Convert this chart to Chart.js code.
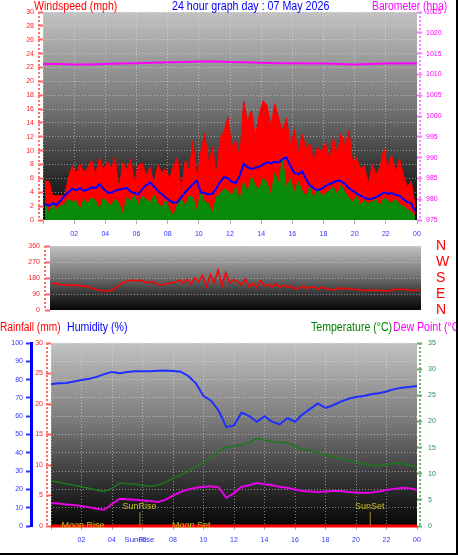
<!DOCTYPE html>
<html>
<head>
<meta charset="utf-8">
<script src="https://cdn.jsdelivr.net/npm/chart.js@4.4.1/dist/chart.umd.min.js"></script>
<style>
  body { margin: 0; background: #fff; }
  #wrap { position: relative; width: 458px; height: 555px; overflow: hidden; background: #fff; }
  #wrap canvas { position: absolute; left: 0; }
  .ttl { position: absolute; font: 12px "Liberation Sans", Arial, sans-serif; line-height: 12px;
         white-space: nowrap; transform: scaleX(0.88); transform-origin: left top; z-index: 2; }
  .edgeR { position: absolute; right: 0; top: 0; width: 2px; height: 555px; background: #000; z-index: 3; }
  .edgeB { position: absolute; left: 0; bottom: 0; width: 458px; height: 2px; background: #000; z-index: 3; }
</style>
</head>
<body>
<div id="wrap">
  <canvas id="windChart" width="458" height="245" style="top:0"></canvas>
  <canvas id="dirChart" width="458" height="116" style="top:220px"></canvas>
  <canvas id="tempChart" width="458" height="225" style="top:330px"></canvas>

  <div class="ttl" style="left:34px;top:0;color:#ff0000">Windspeed (mph)</div>
  <div class="ttl" style="left:172px;top:0;color:#0000ff;transform:scaleX(0.89)">24 hour graph day : 07 May 2026</div>
  <div class="ttl" style="left:372px;top:0;color:#ff00ff;transform:scaleX(0.86)">Barometer (hpa)</div>

  <div class="ttl" style="left:0;top:321px;color:#ff0000;transform:scaleX(0.85)">Rainfall (mm)</div>
  <div class="ttl" style="left:67px;top:321px;color:#0000ff">Humidity (%)</div>
  <div class="ttl" style="left:311px;top:321px;color:#008000">Temperature (°C)</div>
  <div class="ttl" style="left:393px;top:321px;color:#ff00ff">Dew Point (°C)</div>

  <div class="edgeR"></div>
  <div class="edgeB"></div>
</div>

<script>
// Achsenbeschriftung Stunden
const hourLabels = ['', '02', '04', '06', '08', '10', '12', '14', '16', '18', '20', '22', '00'];
const dirLabels = ['N', 'E', 'S', 'W', 'N'];

// Wind, 15-Minuten-Werte (mph)
const windGust = [
    5.6, 5.6, 3.5, 3.5, 3.5, 3.5,
    6, 7.8, 6.7, 8.1, 6.9, 7.5,
    8.6, 6.5, 9, 7.2, 8.4,
    7.4, 9, 4.5, 8.3, 7.2, 8.8, 5.5, 7.9, 8.2,
    6.4, 7.6, 5.2, 8, 6.8, 7.4, 5.9, 7.8,
    9, 4.2, 8.6, 7,
    11.4, 6, 9.8, 12.5,
    8.2, 10.6, 6.5, 11.8, 12.9, 14.8,
    10.5, 11.4, 8.8, 17.2,
    14.2, 15.8, 12, 15.2, 17.2,
    16.5, 13.5, 16.8, 14.7, 12.8,
    14.7, 10.8, 13, 9.5, 12.4, 10.2,
    11, 8.6, 10.5, 9.8, 11.2, 8.5,
    11.8, 9.5, 12.5, 10.6, 12.9,
    8.2, 9, 7.4,
    7.8, 5.2, 8, 6.6, 7.6,
    10.3, 7.5, 9.3, 6.8, 8.8,
    6.5, 4.8, 5.6, 2.2
];
const windSpeed = [
    2.5, 1.0, 2.2, 1.5, 2.0, 2.3,
    3.0, 2.6, 2.8, 1.5, 3.0, 2.4,
    3.2, 2.8, 1.5, 3.2, 2.6, 2.0,
    3.0, 2.4, 0.8, 3.2, 2.8, 3.5,
    2.2, 3.4, 3.0, 2.5, 3.6, 2.4,
    1.8, 2.8, 1.5, 0.6, 2.2, 3.0,
    2.0, 3.5, 3.2, 1.2, 4.0, 2.6,
    2.4, 1.0, 3.3, 3.8, 4.5, 4.2,
    3.5, 4.8, 2.8, 5.5, 4.0, 6.2,
    5.0, 4.4, 6.0, 5.4, 3.5, 6.8,
    5.2, 8.8, 4.5, 6.0, 3.8, 5.6,
    4.2, 3.4, 4.8, 3.0, 4.6, 3.5,
    3.8, 4.2, 4.8, 3.6, 5.0, 4.0,
    3.2, 2.6, 3.4, 2.2, 2.8, 2.4,
    2.6, 3.0, 2.0, 3.2, 2.8, 2.4,
    3.0, 2.2, 2.0, 1.5, 1.2, 0.5
];
const windAvg = [
    2.3, 2.1, 2.4, 2.2, 2.8, 3.5, 4.0, 4.5,
    4.3, 4.6, 4.2, 4.4, 4.7, 4.6, 5.2, 4.5,
    4.0, 3.9, 4.2, 4.4, 4.5, 4.6, 4.1, 3.9,
    3.7, 4.5, 5.0, 5.4, 4.8, 4.2, 3.7, 3.2,
    2.8, 2.5, 2.6, 3.3, 4.0, 4.6, 5.2, 5.7,
    4.0, 3.9, 3.7, 3.8, 4.6, 5.5, 6.2, 6.0,
    5.5, 5.3, 6.4, 8.1, 7.6, 7.4, 7.5, 7.7,
    8.0, 8.3, 8.2, 8.4, 8.3, 8.8, 9.0, 7.8,
    6.8, 6.6, 7.0, 5.9, 5.0, 4.6, 4.3, 4.5,
    4.9, 5.2, 5.4, 5.7, 5.6, 5.2, 4.6, 4.2,
    3.8, 3.5, 3.2, 3.0, 3.1, 3.3, 3.6, 4.0,
    3.8, 3.9, 3.6, 3.5, 3.0, 2.6, 2.4, 1.3
];
// Windrichtung (Grad), 15-Minuten-Werte
const windDir = [
    152, 148, 145, 140, 142, 138, 140, 135,
    136, 132, 125, 118, 112, 109, 105, 108,
    115, 131, 150, 159, 165, 169, 162, 170,
    158, 154, 160, 148, 140, 145, 150, 152,
    158, 169, 150, 175, 145, 180, 160, 195,
    130, 200, 155, 225, 135, 210, 150, 172,
    160, 140, 175, 132, 150, 125, 165, 138,
    142, 130, 148, 126, 140, 128, 135, 118,
    124, 135, 120, 130, 125, 118, 130, 115,
    120, 112, 125, 118, 124, 115, 120, 112,
    115, 108, 112, 110, 114, 108, 110, 106,
    112, 118, 115, 120, 112, 108, 114, 109
];

// Barometer, Stundenwerte (hPa)
const baroHours = [0, 1, 2, 3, 4, 5, 6, 7, 8, 9, 10, 11, 12, 13, 14, 15, 16, 17, 18, 19, 20, 21, 22, 23, 24];
const barometer = [
    1012.5, 1012.5, 1012.4, 1012.4, 1012.5, 1012.6, 1012.7, 1012.8, 1012.9, 1013.0,
    1013.1, 1013.1, 1013.0, 1012.9, 1012.8, 1012.7, 1012.7, 1012.6, 1012.6, 1012.5,
    1012.4, 1012.5, 1012.6, 1012.7, 1012.6
];
const rainfall = [0, 0, 0, 0, 0, 0, 0, 0, 0, 0, 0, 0, 0, 0, 0, 0, 0, 0, 0, 0, 0, 0, 0, 0, 0];

// Halbstundenwerte
const humidity = [
    77.5, 78, 78.2, 79, 79.8, 80.5, 81.5, 83, 84.2, 83.5,
    84.2, 84.5, 84.5, 84.6, 84.8, 85, 84.7, 84.3, 82, 78,
    71, 68.5, 63, 54, 55, 62, 60, 57, 60, 57,
    55.5, 59, 57, 61, 64, 67, 64.5, 66, 68, 69.5,
    70.5, 71, 72, 72.6, 73.5, 74.8, 75.5, 76, 76.5
];
const temperature = [
    8.6, 8.4, 8.1, 7.8, 7.5, 7.2, 6.9, 6.6, 7.2, 8.2,
    8.1, 8.0, 7.8, 7.6, 7.8, 8.4, 9.1, 9.7, 10.5, 11.3,
    12.2, 13.2, 14.3, 15.0, 15.3, 15.5, 16.0, 16.8, 16.4, 16.1,
    16.0, 15.9, 15.3, 14.7, 14.4, 14.0, 13.6, 13.3, 12.8, 12.5,
    12.2, 11.9, 11.6, 11.5, 11.8, 12.0, 11.9, 11.6, 11.3
];
const dewPoint = [
    4.4, 4.3, 4.1, 4.0, 3.8, 3.6, 3.3, 3.1, 4.2, 5.2,
    5.1, 5.0, 4.9, 4.8, 4.6, 5.0, 5.8, 6.5, 7.0, 7.3,
    7.5, 7.6, 7.4, 5.4, 6.3, 7.5, 7.8, 8.2, 8.0, 7.8,
    7.5, 7.3, 7.0, 6.7, 6.6, 6.5, 6.6, 6.7, 6.7, 6.5,
    6.4, 6.3, 6.4, 6.6, 6.9, 7.1, 7.3, 7.2, 6.9
];

// Sonne und Mond (Uhrzeit in Stunden)
const eventNames = ['Moon Rise', 'SunRise', 'Moon Set', 'SunSet'];
const eventHours = [2.1, 5.8, 9.2, 20.9];

Chart.defaults.font.family = '"Liberation Sans", Arial, sans-serif';
Chart.defaults.font.size = 7;
Chart.defaults.animation = false;
Chart.defaults.plugins.legend.display = false;
Chart.defaults.plugins.tooltip.enabled = false;

const gridCol = 'rgba(235,235,235,0.5)';
const quarter = arr => arr.map((v, i) => ({ x: i * 0.25 + 0.125, y: v }));
const half = arr => arr.map((v, i) => ({ x: i * 0.5, y: v }));
const hourly = arr => arr.map((v, i) => ({ x: baroHours[i], y: v }));
const plain = v => String(v);

// Hintergrund mit Verlauf hell -> schwarz
const bgGrad = {
    id: 'bgGrad',
    beforeDraw(chart) {
        const { ctx, chartArea: a } = chart;
        const g = ctx.createLinearGradient(0, a.top, 0, a.bottom);
        g.addColorStop(0, '#c2c2c2');
        g.addColorStop(0.45, '#767676');
        g.addColorStop(0.8, '#2a2a2a');
        g.addColorStop(1, '#060606');
        ctx.save();
        ctx.fillStyle = g;
        ctx.fillRect(a.left, a.top, a.right - a.left, a.bottom - a.top);
        ctx.restore();
    }
};

// gepunktete Achsenlinien
const axisDots = {
    id: 'axisDots',
    afterDraw(chart, args, opts) {
        const ctx = chart.ctx;
        (opts.lines || []).forEach(l => {
            const s = chart.scales[l.axis];
            const x = s.position === 'right' ? s.left + l.off : s.right - l.off;
            ctx.save();
            ctx.strokeStyle = l.color;
            ctx.lineWidth = 2;
            ctx.setLineDash([2, 2]);
            ctx.beginPath();
            ctx.moveTo(x, s.top);
            ctx.lineTo(x, s.bottom);
            ctx.stroke();
            ctx.restore();
        });
    }
};

// Sonnenauf-/untergang, Mondauf-/untergang
const sunMoon = {
    id: 'sunMoon',
    afterDatasetsDraw(chart) {
        const { ctx, chartArea: a } = chart;
        const xs = chart.scales.x;
        ctx.save();
        ctx.font = '9px "Liberation Sans", Arial, sans-serif';
        ctx.textAlign = 'center';
        ctx.textBaseline = 'middle';
        eventNames.forEach((name, i) => {
            const px = xs.getPixelForValue(eventHours[i]);
            const isSun = name.startsWith('Sun');
            const y = isSun ? a.bottom - 19 : a.bottom;
            if (isSun) {
                ctx.strokeStyle = '#a09020';
                ctx.lineWidth = 1;
                ctx.beginPath();
                ctx.moveTo(px + 0.5, y + 5);
                ctx.lineTo(px + 0.5, a.bottom);
                ctx.stroke();
            }
            ctx.fillStyle = '#c8bc1e';
            ctx.fillText(name, px, y);
        });
        ctx.restore();
    },
    afterDraw(chart) {
        const ctx = chart.ctx;
        const xs = chart.scales.x;
        const px = xs.getPixelForValue(eventHours[1]);
        ctx.save();
        ctx.font = '8px "Liberation Sans", Arial, sans-serif';
        ctx.textAlign = 'center';
        ctx.textBaseline = 'middle';
        ctx.fillStyle = '#3333ff';
        ctx.fillText('SunRise', px, xs.top + 14);
        ctx.restore();
    }
};

function hourAxis(h, show) {
    return {
        type: 'linear', min: 0, max: 24, display: show,
        afterFit: s => { s.height = h; },
        ticks: {
            stepSize: 2, autoSkip: false, maxRotation: 0, color: '#3333ff', padding: 6,
            callback: v => hourLabels[v / 2]
        },
        grid: { color: gridCol, tickLength: 4, tickColor: '#b0b0b0' },
        border: { display: false, dash: [1, 2] }
    };
}

// oberes Diagramm: Wind und Barometer
new Chart(document.getElementById('windChart'), {
    type: 'line',
    data: {
        datasets: [
            { data: hourly(barometer), yAxisID: 'baro', borderColor: '#ff00ff', borderWidth: 2, pointRadius: 0, order: 1 },
            { data: quarter(windAvg), yAxisID: 'wind', borderColor: '#0000ff', borderWidth: 2, pointRadius: 0, order: 2 },
            { data: quarter(windSpeed), yAxisID: 'wind', borderColor: '#0a8a0a', backgroundColor: '#0a8a0a',
              borderWidth: 1, fill: 'origin', pointRadius: 0, order: 3 },
            { data: quarter(windGust), yAxisID: 'wind', borderColor: '#ff0000', backgroundColor: '#ff0000',
              borderWidth: 1, fill: 'origin', pointRadius: 0, order: 4 }
        ]
    },
    options: {
        responsive: false,
        layout: { padding: { top: 12 } },
        scales: {
            x: hourAxis(25, true),
            wind: {
                position: 'left', min: 0, max: 30,
                afterFit: s => { s.width = 43; },
                ticks: { stepSize: 2, autoSkip: false, color: '#ff2020', padding: 4, callback: plain },
                grid: { color: gridCol, tickLength: 5, tickColor: '#ff6060', tickWidth: 2 },
                border: { display: false, dash: [1, 2] }
            },
            baro: {
                position: 'right', min: 975, max: 1025,
                afterFit: s => { s.width = 41; },
                ticks: { stepSize: 5, autoSkip: false, color: '#ff00ff', padding: 4, callback: plain },
                grid: { drawOnChartArea: false, tickLength: 5, tickColor: '#ff70ff', tickWidth: 2 },
                border: { display: false }
            }
        },
        plugins: {
            axisDots: { lines: [{ axis: 'wind', off: 4, color: '#ff7070' }, { axis: 'baro', off: 3, color: '#ff80ff' }] }
        }
    },
    plugins: [bgGrad, axisDots]
});

// mittleres Diagramm: Windrichtung
new Chart(document.getElementById('dirChart'), {
    type: 'line',
    data: {
        datasets: [
            { data: quarter(windDir), yAxisID: 'dir', borderColor: '#ff0000', borderWidth: 1.5, pointRadius: 0 }
        ]
    },
    options: {
        responsive: false,
        layout: { padding: { top: 26, bottom: 26 } },
        scales: {
            x: hourAxis(0, false),
            dir: {
                position: 'left', min: 0, max: 360,
                afterFit: s => { s.width = 50; },
                ticks: { stepSize: 90, autoSkip: false, color: '#ff2020', padding: 5, callback: plain },
                grid: { color: gridCol, tickLength: 5, tickColor: '#ff6060', tickWidth: 2 },
                border: { display: false, dash: [1, 2] }
            },
            dirR: {
                position: 'right', min: 0, max: 360,
                afterFit: s => { s.width = 37; },
                ticks: {
                    stepSize: 90, autoSkip: false, color: '#ff0000', padding: 15,
                    font: { size: 14 },
                    callback: v => dirLabels[v / 90]
                },
                grid: { drawOnChartArea: false, drawTicks: false },
                border: { display: false }
            }
        },
        plugins: {
            axisDots: { lines: [{ axis: 'dir', off: 5, color: '#ff7070' }] }
        }
    },
    plugins: [bgGrad, axisDots]
});

// unteres Diagramm: Regen, Feuchte, Temperatur, Taupunkt
new Chart(document.getElementById('tempChart'), {
    type: 'line',
    data: {
        datasets: [
            { data: hourly(rainfall), yAxisID: 'rain', borderColor: '#ff0000', borderWidth: 3, pointRadius: 0, clip: false, order: 1 },
            { data: half(humidity), yAxisID: 'hum', borderColor: '#1f2fff', borderWidth: 2, pointRadius: 0, order: 2 },
            { data: half(dewPoint), yAxisID: 'temp', borderColor: '#e800e8', borderWidth: 2, pointRadius: 0, order: 3 },
            { data: half(temperature), yAxisID: 'temp', borderColor: '#1a7a1a', borderWidth: 1.5, pointRadius: 0, order: 4 }
        ]
    },
    options: {
        responsive: false,
        layout: { padding: { top: 13 } },
        scales: {
            x: hourAxis(29, true),
            hum: {
                position: 'left', weight: 1, min: 0, max: 100,
                afterFit: s => { s.width = 31; },
                ticks: { stepSize: 10, autoSkip: false, color: '#3333ff', padding: 3, callback: plain },
                grid: { color: gridCol, tickLength: 5, tickColor: '#3333ff', tickWidth: 2 },
                border: { display: true, color: '#0000ff', width: 3, dash: [1, 2] }
            },
            rain: {
                position: 'left', weight: 0, min: 0, max: 30,
                afterFit: s => { s.width = 20; },
                ticks: { stepSize: 5, autoSkip: false, color: '#ff2020', padding: 3, callback: plain },
                grid: { drawOnChartArea: false, tickLength: 5, tickColor: '#ff6060', tickWidth: 2 },
                border: { display: false }
            },
            temp: {
                position: 'right', min: 0, max: 35,
                afterFit: s => { s.width = 41; },
                ticks: { stepSize: 5, autoSkip: false, color: '#2a8a5a', padding: 6, callback: plain },
                grid: { drawOnChartArea: false, tickLength: 5, tickColor: '#60b060', tickWidth: 2 },
                border: { display: false }
            }
        },
        plugins: {
            axisDots: { lines: [{ axis: 'rain', off: 4, color: '#ff7070' }, { axis: 'temp', off: 3, color: '#70b070' }] }
        }
    },
    plugins: [bgGrad, axisDots, sunMoon]
});
</script>
</body>
</html>
